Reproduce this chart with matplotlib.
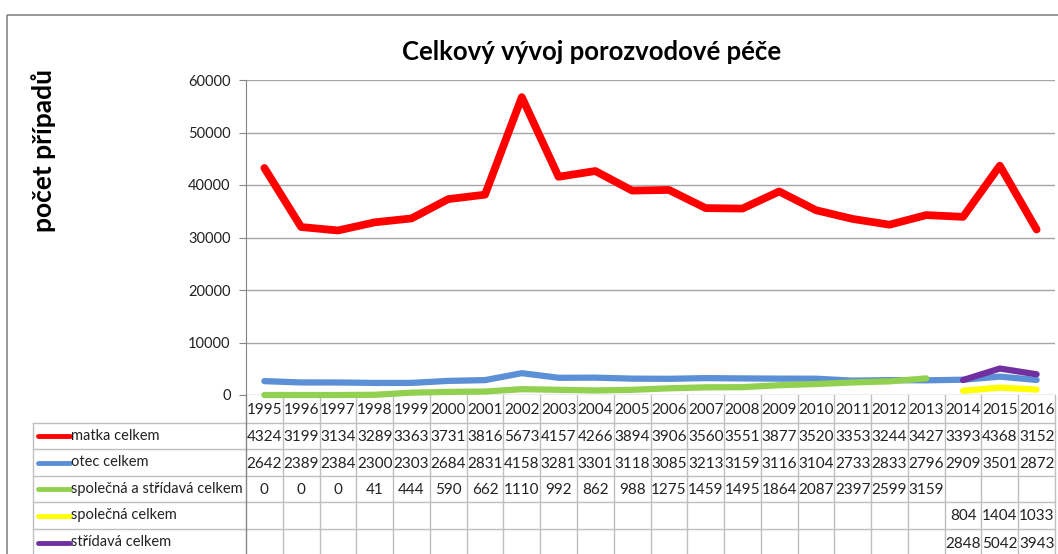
import numpy as np
import matplotlib
matplotlib.use("Agg")
import matplotlib.pyplot as plt
from matplotlib.patches import Rectangle

plt.rcParams['font.family'] = ['Lato', 'DejaVu Sans']

years = list(range(1995, 2017))
# values as plotted; the Excel table cuts the five-digit ones to four characters
matka = [43240, 31990, 31340, 32890, 33630, 37310, 38160, 56730, 41570, 42660, 38940,
         39060, 35600, 35510, 38770, 35200, 33530, 32440, 34270, 33930, 43680, 31520]
otec = [2642, 2389, 2384, 2300, 2303, 2684, 2831, 4158, 3281, 3301, 3118,
        3085, 3213, 3159, 3116, 3104, 2733, 2833, 2796, 2909, 3501, 2872]
spol_strid = [0, 0, 0, 41, 444, 590, 662, 1110, 992, 862, 988,
              1275, 1459, 1495, 1864, 2087, 2397, 2599, 3159, None, None, None]
spolecna = [None] * 19 + [804, 1404, 1033]
stridava = [None] * 19 + [2848, 5042, 3943]

series = [
    ("matka celkem", matka, "#FF0000", 5.6),
    ("otec celkem", otec, "#5B8FD6", 4.5),
    ("společná a střídavá celkem", spol_strid, "#92D050", 4.5),
    ("společná celkem", spolecna, "#FFFF00", 4.5),
    ("střídavá celkem", stridava, "#7030A0", 4.5),
]

W, H = 1058, 554
fig = plt.figure(figsize=(W / 100, H / 100), dpi=100)

# pixel layout
ax_l, ax_r, ax_t, ax_b = 246, 1055, 80, 395
ax = fig.add_axes([ax_l / W, 1 - ax_b / H, (ax_r - ax_l) / W, (ax_b - ax_t) / H])

x = np.arange(len(years))
for name, vals, col, lw in series:
    y = np.array([np.nan if v is None else v for v in vals], dtype=float)
    ax.plot(x, y, color=col, lw=lw, solid_capstyle='round', solid_joinstyle='round',
            clip_on=False, zorder=3)

ax.set_xlim(-0.5, len(years) - 0.5)
ax.set_ylim(0, 60000)
ax.set_yticks(range(0, 60001, 10000))
ax.yaxis.grid(True, color='#A6A6A6', lw=1)
ax.set_axisbelow(True)
ax.set_xticks([])
for s in ['top', 'right', 'bottom']:
    ax.spines[s].set_visible(False)
ax.spines['left'].set_color('#868686')
ax.tick_params(axis='y', length=5, color='#868686', labelsize=10.5, pad=6,
               labelcolor='#222222')

# overlay in pixel coordinates for frame, titles and data table
ov = fig.add_axes([0, 0, 1, 1], zorder=-1)
ov.set_xlim(0, W)
ov.set_ylim(H, 0)
ov.axis('off')

ov.add_patch(Rectangle((7, 15), W + 20, H, fill=False, ec='#868686', lw=1.2))
ov.text(592, 52, "Celkový vývoj porozvodové péče", ha='center', va='center',
        fontsize=18.5, fontweight='bold')
ov.text(44, 150, "počet případů", ha='center', va='center', rotation=90,
        fontsize=19, fontweight='bold')

grid_c = '#BFBFBF'
colw = (ax_r - ax_l) / len(years)
row_y = [395, 423, 449, 476, 502, 529, 556]
tab_l = 33
fs = 11

# year row
for i, yr in enumerate(years):
    ov.text(ax_l + (i + 0.5) * colw, (row_y[0] + row_y[1]) / 2 + 1, str(yr),
            ha='center', va='center', fontsize=fs, color='#222222')


def cell_text(v, cut):
    if v is None:
        return ""
    s = str(v)
    return s[:4] if cut else s


for r, (name, vals, col, lw) in enumerate(series):
    yc = (row_y[r + 1] + row_y[r + 2]) / 2
    ov.plot([38, 70], [yc, yc], color=col, lw=3.5, solid_capstyle='round')
    ov.text(71, yc, name, ha='left', va='center', fontsize=10.5, color='#222222')
    for i, v in enumerate(vals):
        ov.text(ax_l + (i + 0.5) * colw, yc + 1, cell_text(v, name == "matka celkem"),
                ha='center', va='center', fontsize=fs, color='#222222')

# table grid
for yy in row_y[1:-1]:
    ov.plot([tab_l, ax_r], [yy, yy], color=grid_c, lw=1)
ov.plot([tab_l, tab_l], [row_y[1], H + 2], color=grid_c, lw=1)
for i in range(len(years) + 1):
    xx = ax_l + i * colw
    ov.plot([xx, xx], [ax_b, H + 2], color=grid_c if i else '#868686', lw=1)

fig.savefig("out.png", dpi=100)
